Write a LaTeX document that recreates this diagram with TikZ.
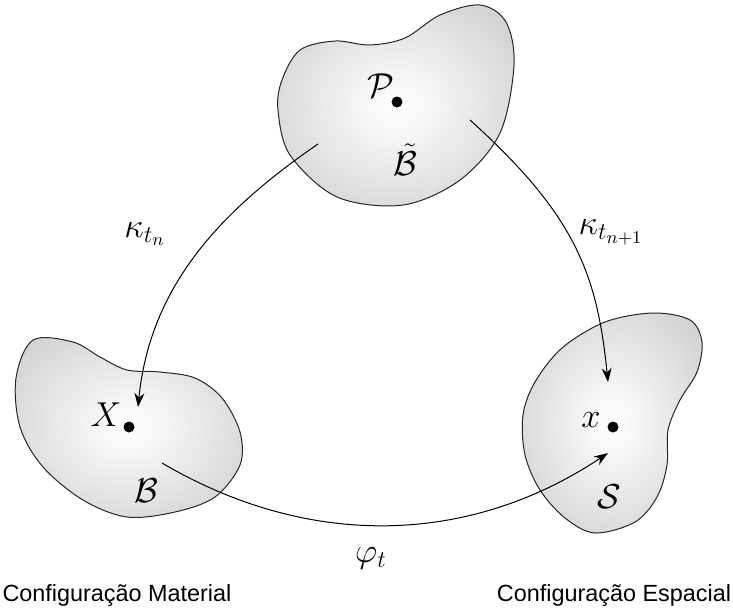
\documentclass[tikz,border=0pt]{standalone}
\usepackage{fontspec}
\setmainfont{Liberation Sans}
\usepackage{amsmath, amssymb}
\usepackage{tikz}
\usetikzlibrary{arrows.meta, positioning}

\pgfdeclareradialshading{blobshade}{\pgfpoint{0bp}{0bp}}{color(0bp)=(white); color(8bp)=(black!4); color(30bp)=(black!17); color(50bp)=(black!20)}

\tikzset{
	blob/.style={draw=black!85, line width=0.5pt, shading=blobshade},
	pointdot/.style={circle, fill=black, inner sep=0pt, minimum size=5.5pt},
	mathlbl/.style={font=\fontsize{18}{20}\selectfont, inner sep=0pt},
	mapping/.style={line width=0.5pt, -{Stealth[length=7pt, width=5pt]}},
	conflbl/.style={font=\fontsize{11.7}{14}\selectfont, inner sep=0pt}
}

\begin{document}
\begin{tikzpicture}[x=0.5pt, y=-0.5pt]
				\useasboundingbox (0,0) rectangle (733,612);
				\shadedraw[blob] plot[smooth cycle, tension=0.55] coordinates {(282,80) (300,50) (335,41) (370,45) (405,38) (440,15) (480,5) (506,22) (514,65) (500,133) (460,180) (403,205) (337,197) (290,155) (278,110)};
				\shadedraw[blob] plot[smooth cycle, tension=0.55] coordinates {(33,340) (73,342) (100,357) (127,370) (160,372) (195,378) (222,398) (240,432) (240,465) (215,497) (175,512) (127,517) (83,500) (43,467) (20,427) (16,378)};
				\shadedraw[blob] plot[smooth cycle, tension=0.55] coordinates {(653,313) (690,320) (702,342) (697,372) (680,400) (668,430) (667,465) (657,497) (635,522) (595,533) (565,518) (540,490) (525,455) (523,415) (535,382) (562,348) (605,322)};
				\node[pointdot] (P) at (397,102) {};
				\node[mathlbl] (P-lbl) at (381,86) {$\mathcal{P}$};
				\node[mathlbl] (Bt-lbl) at (405,160) {$\tilde{\mathcal{B}}$};
				\node[pointdot] (X) at (129,427) {};
				\node[mathlbl] (X-lbl) at (106,415) {$X$};
				\node[mathlbl] (B-lbl) at (146,491) {$\mathcal{B}$};
				\node[pointdot] (x) at (613,427) {};
				\node[mathlbl] (x-lbl) at (591,420) {$x$};
				\node[mathlbl] (S-lbl) at (609,497) {$\mathcal{S}$};
				\coordinate (kn-from) at (318,144);
				\coordinate (kn-to) at (138,407);
				\coordinate (knn-from) at (470,120);
				\coordinate (knn-to) at (608,382);
				\coordinate (phi-from) at (162,463);
				\coordinate (phi-to) at (608,453);
				\draw[mapping] (kn-from) .. controls (219,212) and (150,287) .. (kn-to);
				\draw[mapping] (knn-from) .. controls (574,214) and (597,272) .. (knn-to);
				\draw[mapping] (phi-from) .. controls (310,550) and (470,545) .. (phi-to);
				\node[mathlbl] (kn-lbl) at (145,234) {$\kappa_{t_n}$};
				\node[mathlbl] (knn-lbl) at (611,232) {$\kappa_{t_{n+1}}$};
				\node[mathlbl] (phi-lbl) at (371,558) {$\varphi_t$};
				\node[conflbl] (mat) at (117,595) {Configuração Material};
				\node[conflbl] (esp) at (614,595) {Configuração Espacial};
			\end{tikzpicture}
\end{document}
